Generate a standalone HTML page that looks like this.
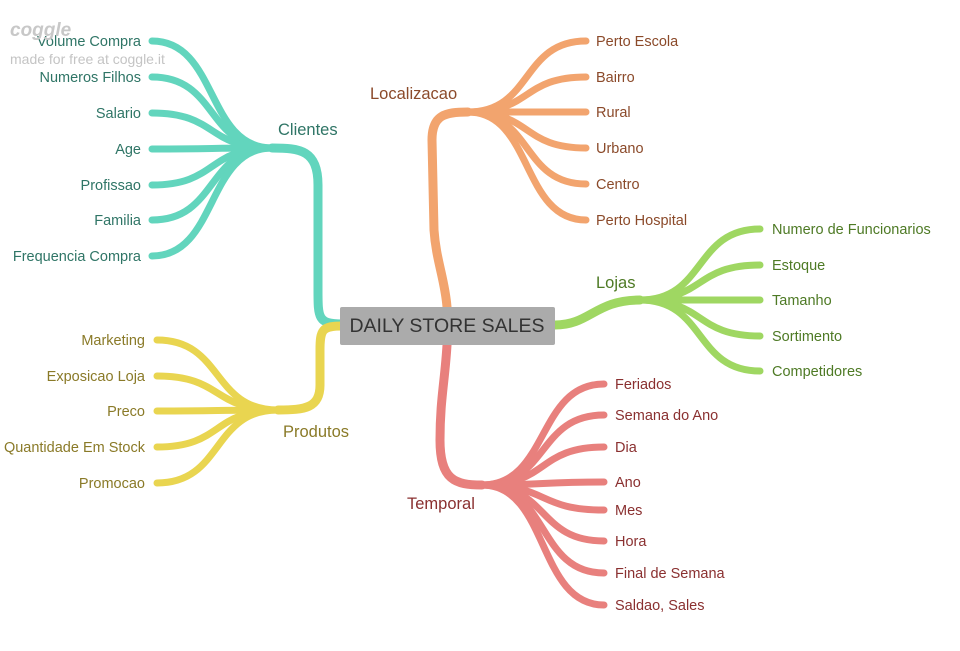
<!DOCTYPE html>
<html><head><meta charset="utf-8">
<style>
html,body{margin:0;padding:0;background:#fff;width:960px;height:651px;overflow:hidden}
svg{display:block}
text{font-family:"Liberation Sans",sans-serif}
</style></head>
<body>
<svg id="map" width="960" height="651" viewBox="0 0 960 651">
<g id="links" fill="none" stroke-linecap="round"></g>
<g id="labels"></g>
<g>
<text x="10" y="36" font-size="19" font-style="italic" font-weight="bold" fill="#c8c8c8">coggle</text>
<text x="10" y="64" font-size="14" fill="#c4c4c4">made for free at coggle.it</text>
</g>
<rect x="340" y="307" width="215" height="38" rx="2" fill="#ababab"/>
<text x="447" y="332" font-size="19.5" fill="#333" text-anchor="middle">DAILY STORE SALES</text>
</svg>
<script>
const NS="http://www.w3.org/2000/svg";
const links=document.getElementById('links');
const labels=document.getElementById('labels');
function curve(x1,y1,x2,y2,color,w,name){
  const p=document.createElementNS(NS,'path');
  const mx=x1+(x2-x1)*0.55;
  p.setAttribute('d',`M${x1} ${y1} C${mx} ${y1},${x1+(x2-x1)*0.45} ${y2},${x2} ${y2}`);
  p.setAttribute('stroke',color);p.setAttribute('stroke-width',w);
  
  
  links.appendChild(p);
}
function vcurve(d,color,w,name){
  const p=document.createElementNS(NS,'path');
  p.setAttribute('d',d);p.setAttribute('stroke',color);p.setAttribute('stroke-width',w);
  
  
  links.appendChild(p);
}
function label(x,y,t,color,anchor,size,name){
  const e=document.createElementNS(NS,'text');
  e.setAttribute('x',x);e.setAttribute('y',y);e.setAttribute('fill',color);
  e.setAttribute('font-size',size);e.setAttribute('text-anchor',anchor);
  e.textContent=t;
  
  
  labels.appendChild(e);
}
const slug=s=>s.toLowerCase().replace(/[^a-z0-9]+/g,'-');
const LS=14.5;

// Clientes
const cC="#62d5bd", cT="#2f7566";
vcurve("M342 324 C318 324 318 318 318 290 L318 185 C318 150 300 148 272 148",cC,9,'clientes-branch');
const clientes=["Volume Compra","Numeros Filhos","Salario","Age","Profissao","Familia","Frequencia Compra"];
const cY=[41,77,113,149,185,220,256];
clientes.forEach((t,i)=>{curve(272,148,152,cY[i],cC,7,'link-'+slug(t));label(141,cY[i]+5,t,cT,'end',LS,'leaf-'+slug(t));});
label(278,135,"Clientes",cT,'start',16.5,'clientes-label');

// Produtos
const yC="#e9d550", yT="#8a7a28";
vcurve("M342 326 C322 326 320 330 320 350 L320 385 C320 408 305 410 278 410",yC,9,'produtos-branch');
const produtos=["Marketing","Exposicao Loja","Preco","Quantidade Em Stock","Promocao"];
const pY=[340,376,411,447,483];
produtos.forEach((t,i)=>{curve(278,410,157,pY[i],yC,7,'link-'+slug(t));label(145,pY[i]+5,t,yT,'end',LS,'leaf-'+slug(t));});
label(283,437,"Produtos",yT,'start',16.5,'produtos-label');

// Localizacao
const oC="#f2a46e", oT="#8b4a2a";
vcurve("M447 307 C445 280 436 260 434 230 L432 140 C432 115 445 112 468 112",oC,9,'localizacao-branch');
const loc=["Perto Escola","Bairro","Rural","Urbano","Centro","Perto Hospital"];
const lY=[41,77,112,148,184,220];
loc.forEach((t,i)=>{curve(468,112,586,lY[i],oC,7,'link-'+slug(t));label(596,lY[i]+5,t,oT,'start',LS,'leaf-'+slug(t));});
label(370,99,"Localizacao",oT,'start',16.5,'localizacao-label');

// Lojas
const gC="#9fd762", gT="#4e7a25";
vcurve("M555 325 C590 325 595 300 640 300",gC,9,'lojas-branch');
const lojas=["Numero de Funcionarios","Estoque","Tamanho","Sortimento","Competidores"];
const gY=[229,265,300,336,371];
lojas.forEach((t,i)=>{curve(640,300,760,gY[i],gC,7,'link-'+slug(t));label(772,gY[i]+5,t,gT,'start',LS,'leaf-'+slug(t));});
label(596,288,"Lojas",gT,'start',16.5,'lojas-label');

// Temporal
const rC="#e8807d", rT="#8a3030";
vcurve("M447 345 C445 380 440 400 440 440 C440 480 455 485 482 485",rC,9,'temporal-branch');
const temporal=["Feriados","Semana do Ano","Dia","Ano","Mes","Hora","Final de Semana","Saldao, Sales"];
const tY=[384,415,447,482,510,541,573,605];
temporal.forEach((t,i)=>{curve(482,485,604,tY[i],rC,7,'link-'+slug(t));label(615,tY[i]+5,t,rT,'start',LS,'leaf-'+slug(t));});
label(407,509,"Temporal",rT,'start',16.5,'temporal-label');
</script>
</body></html>
